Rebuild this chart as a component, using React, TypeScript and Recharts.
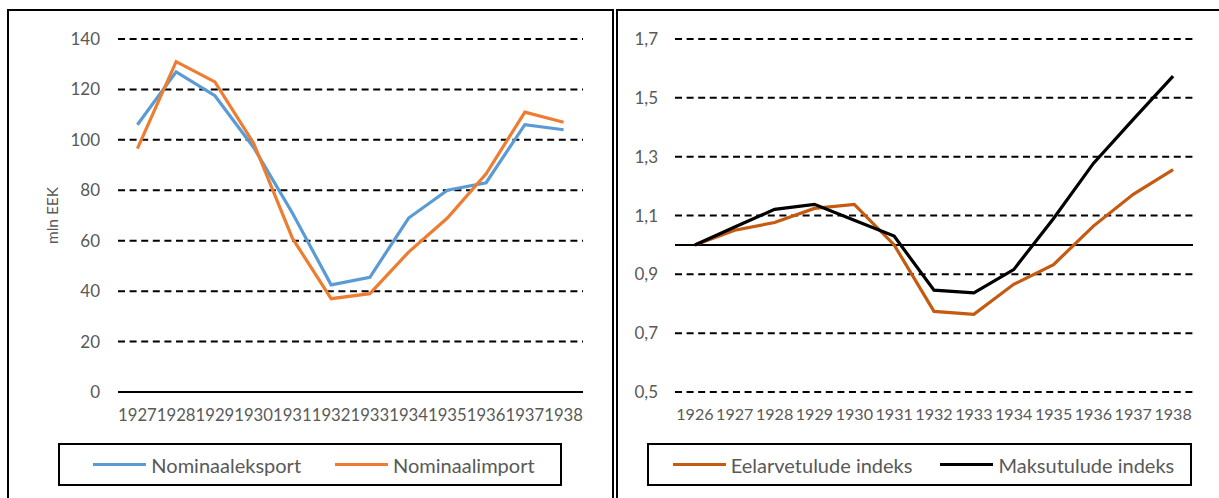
import React from "react";
import {
  LineChart,
  Line,
  XAxis,
  YAxis,
  CartesianGrid,
  Legend,
  ReferenceLine,
} from "recharts";

// left panel: nominal trade, mln EEK
const tradeYears = ["1927", "1928", "1929", "1930", "1931", "1932", "1933", "1934", "1935", "1936", "1937", "1938"];
const nominalExport = [106, 127, 117.5, 97, 71, 42.5, 45.5, 69, 80, 83, 106, 104];
const nominalImport = [96.5, 131, 123, 98.7, 61, 37, 39, 55.5, 69, 86.5, 111, 107];
const tradeTicks = [0, 20, 40, 60, 80, 100, 120, 140];

// right panel: revenue indices (1926 = 1)
const indexYears = ["1926", "1927", "1928", "1929", "1930", "1931", "1932", "1933", "1934", "1935", "1936", "1937", "1938"];
const budgetIndex = [1.0, 1.05, 1.076, 1.124, 1.138, 1.0, 0.774, 0.764, 0.866, 0.933, 1.064, 1.172, 1.256];
const taxIndex = [1.0, 1.061, 1.121, 1.138, 1.084, 1.03, 0.846, 0.837, 0.916, 1.09, 1.277, 1.427, 1.574];
const indexTicks = [0.5, 0.7, 0.9, 1.1, 1.3, 1.5, 1.7];

const tradeData = tradeYears.map((year, i) => ({
  year,
  eksport: nominalExport[i],
  import: nominalImport[i],
}));

const indexData = indexYears.map((year, i) => ({
  year,
  eelarve: budgetIndex[i],
  maksu: taxIndex[i],
}));

const FONT = "Lato, 'Open Sans', sans-serif";
const GREY = "#595959";
const xTickLeft = { fill: GREY, fontSize: 16.7, fontFamily: FONT };
const xTickRight = { fill: GREY, fontSize: 16.1, fontFamily: FONT };
const yTick = { fill: GREY, fontSize: 17, fontFamily: FONT };

const renderLegend = (gap: number) => (props: any) => {
  const items = props.payload || [];
  return (
    <div
      style={{
        display: "flex",
        justifyContent: "center",
        alignItems: "center",
        height: "100%",
        gap,
        paddingLeft: 8,
      }}
    >
      {items.map((entry: any) => (
        <div key={entry.value} style={{ display: "flex", alignItems: "center" }}>
          <span
            style={{
              display: "inline-block",
              width: 53,
              height: 3,
              background: entry.color,
              marginRight: 5,
            }}
          />
          <span style={{ fontSize: 20, color: GREY, fontFamily: FONT }}>{entry.value}</span>
        </div>
      ))}
    </div>
  );
};

const TradeChart = () => (
  <LineChart
    width={610}
    height={500}
    data={tradeData}
    margin={{ top: 39, right: 27, bottom: 78, left: 0 }}
  >
    <CartesianGrid vertical={false} stroke="#000" strokeWidth={2} strokeDasharray="7 4.6" />
    <XAxis
      dataKey="year"
      interval={0}
      height={30}
      padding={{ left: 19.4, right: 19.4 }}
      tick={xTickLeft}
      tickLine={false}
      tickSize={0}
      tickMargin={17}
      axisLine={{ stroke: "#000", strokeWidth: 2 }}
    />
    <YAxis
      width={118}
      domain={[0, 140]}
      ticks={tradeTicks}
      interval={0}
      tick={yTick}
      tickLine={false}
      tickSize={0}
      tickMargin={18}
      axisLine={false}
      label={{
        value: "mln EEK",
        angle: -90,
        position: "insideLeft",
        offset: 52,
        style: { textAnchor: "middle", fill: GREY, fontSize: 15.5, fontFamily: FONT },
      }}
    />
    <Legend
      layout="horizontal"
      verticalAlign="middle"
      content={renderLegend(34)}
      wrapperStyle={{
        left: 58,
        top: 443,
        width: 504,
        height: 43,
        border: "2px solid #000",
        boxSizing: "border-box",
      }}
    />
    <Line
      type="linear"
      dataKey="eksport"
      name="Nominaaleksport"
      stroke="#5B9BD5"
      strokeWidth={3.2}
      dot={false}
      isAnimationActive={false}
    />
    <Line
      type="linear"
      dataKey="import"
      name="Nominaalimport"
      stroke="#ED7D31"
      strokeWidth={3.2}
      dot={false}
      isAnimationActive={false}
    />
  </LineChart>
);

const IndexChart = () => (
  <LineChart
    width={609}
    height={500}
    data={indexData}
    margin={{ top: 39, right: 26, bottom: 78, left: 0 }}
  >
    <CartesianGrid vertical={false} stroke="#000" strokeWidth={2} strokeDasharray="7 4.6" />
    <XAxis
      dataKey="year"
      interval={0}
      height={30}
      padding={{ left: 19.9, right: 19.9 }}
      tick={xTickRight}
      tickLine={false}
      tickSize={0}
      tickMargin={17}
      axisLine={false}
    />
    <YAxis
      width={65}
      domain={[0.5, 1.7]}
      ticks={indexTicks}
      interval={0}
      tick={yTick}
      tickLine={false}
      tickSize={0}
      tickMargin={17}
      axisLine={false}
      tickFormatter={(v: number) => v.toFixed(1).replace(".", ",")}
    />
    <ReferenceLine y={1} stroke="#000" strokeWidth={2} />
    <Legend
      layout="horizontal"
      verticalAlign="middle"
      content={renderLegend(28)}
      wrapperStyle={{
        left: 37,
        top: 443,
        width: 545,
        height: 43,
        border: "2px solid #000",
        boxSizing: "border-box",
      }}
    />
    <Line
      type="linear"
      dataKey="eelarve"
      name="Eelarvetulude indeks"
      stroke="#C55A11"
      strokeWidth={3.2}
      dot={false}
      isAnimationActive={false}
    />
    <Line
      type="linear"
      dataKey="maksu"
      name="Maksutulude indeks"
      stroke="#000"
      strokeWidth={3.2}
      dot={false}
      isAnimationActive={false}
    />
  </LineChart>
);

export default function App() {
  return (
    <div
      style={{
        position: "absolute",
        left: 0,
        top: 0,
        width: 1219,
        height: 498,
        overflow: "hidden",
        background: "#fff",
        fontFamily: FONT,
      }}
    >
      <div
        style={{
          position: "absolute",
          left: 7,
          top: 9,
          width: 607,
          height: 520,
          border: "2px solid #000",
          boxSizing: "border-box",
        }}
      />
      <div
        style={{
          position: "absolute",
          left: 616,
          top: 9,
          width: 640,
          height: 520,
          border: "2px solid #000",
          boxSizing: "border-box",
        }}
      />
      <div style={{ position: "absolute", left: 0, top: 0 }}>
        <TradeChart />
      </div>
      <div style={{ position: "absolute", left: 610, top: 0 }}>
        <IndexChart />
      </div>
    </div>
  );
}
